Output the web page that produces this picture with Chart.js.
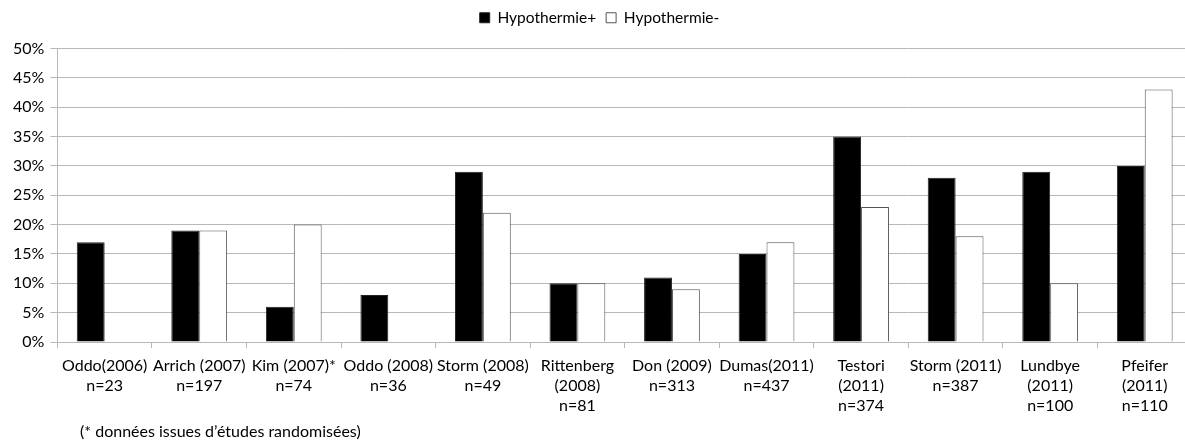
<!DOCTYPE html>
<html>
<head>
<meta charset="utf-8">
<script src="https://cdn.jsdelivr.net/npm/chart.js@4"></script>
<style>
  html, body { margin: 0; padding: 0; background: #fff; overflow: hidden; }
  #wrap { position: relative; width: 1200px; height: 444px; }
  #note { position: absolute; left: 80px; top: 421px; font: 16px Lato, sans-serif; color: #000; line-height: 20px; }
</style>
</head>
<body>
<div id="wrap">
  <canvas id="studyChart" width="1200" height="444"></canvas>
  <div id="note">(* données issues d’études randomisées)</div>
</div>
<script>
const studies = [
  ["Oddo(2006)", "n=23"],
  ["Arrich (2007)", "n=197"],
  ["Kim (2007)*", "n=74"],
  ["Oddo (2008)", "n=36"],
  ["Storm (2008)", "n=49"],
  ["Rittenberg", "(2008)", "n=81"],
  ["Don (2009)", "n=313"],
  ["Dumas(2011)", "n=437"],
  ["Testori", "(2011)", "n=374"],
  ["Storm (2011)", "n=387"],
  ["Lundbye", "(2011)", "n=100"],
  ["Pfeifer", "(2011)", "n=110"],
];
const hypoPlus = [17, 19, 6, 8, 29, 10, 11, 15, 35, 28, 29, 30];
const hypoMinus = [null, 19, 20, null, 22, 10, 9, 17, 23, 18, 10, 43];
const yTicks = [0, 5, 10, 15, 20, 25, 30, 35, 40, 45, 50];

const fontFamily = "Lato, sans-serif";

// leave a bit more room under the legend
const legendGap = {
  id: "legendGap",
  beforeInit(chart) {
    const fit = chart.legend.fit;
    chart.legend.fit = function () {
      fit.call(this);
      this.height += 13;
    };
  },
};

function renderStudyChart(canvasId) {
  const canvas = document.getElementById(canvasId);
  return new Chart(canvas, {
    type: "bar",
    data: {
      labels: studies,
      datasets: [
        {
          label: "Hypothermie+",
          data: hypoPlus,
          backgroundColor: "#000",
          borderColor: "#222",
          borderWidth: 1,
        },
        {
          label: "Hypothermie-",
          data: hypoMinus,
          backgroundColor: "#fff",
          borderColor: "#555",
          borderWidth: 1,
        },
      ],
    },
    options: {
      responsive: false,
      animation: false,
      layout: { padding: { left: 7, right: 8, top: 0, bottom: 20 } },
      datasets: { bar: { categoryPercentage: 0.59, barPercentage: 1.0 } },
      plugins: {
        legend: {
          position: "top",
          labels: {
            font: { family: fontFamily, size: 15.5 },
            color: "#000",
            boxWidth: 10,
            boxHeight: 10,
            padding: 10,
          },
        },
        tooltip: { enabled: false },
      },
      scales: {
        x: {
          grid: { drawOnChartArea: false, color: "#b8b8b8", tickLength: 6 },
          border: { color: "#b8b8b8" },
          ticks: {
            maxRotation: 0,
            autoSkip: false,
            padding: 8,
            color: "#000",
            font: { family: fontFamily, size: 16, lineHeight: 1.25 },
          },
        },
        y: {
          min: 0,
          max: 50,
          afterBuildTicks: (axis) => {
            axis.ticks = yTicks.map((v) => ({ value: v }));
          },
          grid: { color: "#b8b8b8", tickLength: 7 },
          border: { color: "#b8b8b8" },
          ticks: {
            color: "#000",
            padding: 6,
            font: { family: fontFamily, size: 16 },
            callback: (v) => v + "%",
          },
        },
      },
    },
    plugins: [legendGap],
  });
}

renderStudyChart("studyChart");
</script>
</body>
</html>
